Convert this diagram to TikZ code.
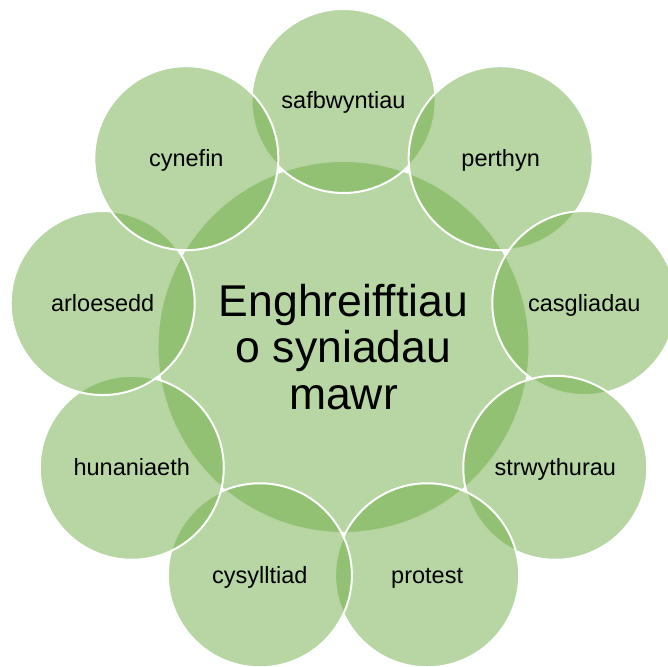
\documentclass[tikz,border=0pt]{standalone}
\usepackage{fontspec}
\setmainfont{Liberation Sans}
\definecolor{accentgreen}{RGB}{112,173,71}
\tikzset{
  bubble/.style={circle, inner sep=0pt, minimum size=184pt, fill=accentgreen,
    fill opacity=0.5, text opacity=1, draw=white, draw opacity=1, line width=2pt,
    font=\fontsize{23.5}{26}\selectfont, text=black, text height=18pt, text depth=2pt},
  hub/.style={circle, inner sep=0pt, minimum size=372pt, fill=accentgreen,
    fill opacity=0.5, text opacity=1, draw=white, draw opacity=1, line width=2pt,
    text=black, align=center, font=\fontsize{44.5}{46.5}\selectfont}
}
\begin{document}
\begin{tikzpicture}[x=1pt,y=-1pt]
\useasboundingbox (0,0) rectangle (668,666);
\def\cx{343.5}
\def\cy{345.5}
\def\R{244.5}
\node[hub] (hub) at (\cx,\cy+1.5) {Enghreifftiau\\o syniadau\\mawr};
\node[bubble] (c1) at ({\cx+\R*cos(90)},{\cy-\R*sin(90)}) {safbwyntiau};
\node[bubble] (c2) at ({\cx+\R*cos(50)},{\cy-\R*sin(50)}) {perthyn};
\node[bubble] (c3) at ({\cx+\R*cos(10)},{\cy-\R*sin(10)}) {casgliadau};
\node[bubble] (c4) at ({\cx+\R*cos(-30)},{\cy-\R*sin(-30)}) {strwythurau};
\node[bubble] (c5) at ({\cx+\R*cos(-70)},{\cy-\R*sin(-70)}) {protest};
\node[bubble] (c6) at ({\cx+\R*cos(-110)},{\cy-\R*sin(-110)}) {cysylltiad};
\node[bubble] (c7) at ({\cx+\R*cos(-150)},{\cy-\R*sin(-150)}) {hunaniaeth};
\node[bubble] (c8) at ({\cx+\R*cos(170)},{\cy-\R*sin(170)}) {arloesedd};
\node[bubble] (c9) at ({\cx+\R*cos(130)},{\cy-\R*sin(130)}) {cynefin};
\end{tikzpicture}
\end{document}
